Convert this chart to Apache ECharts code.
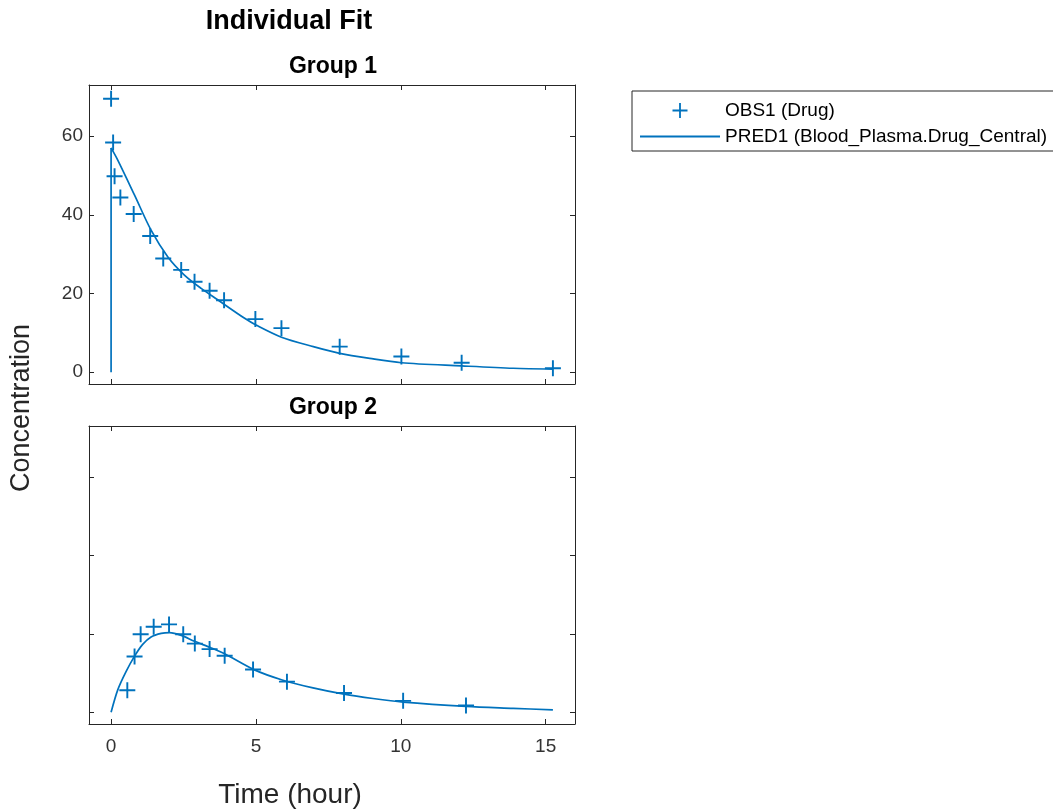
<!DOCTYPE html>
<html>
<head>
<meta charset="utf-8">
<script src="https://cdn.jsdelivr.net/npm/echarts@6/dist/echarts.min.js"></script>
<style>
html,body{margin:0;padding:0;background:#ffffff;}
#chart{width:1053px;height:809px;}
</style>
</head>
<body>
<div id="chart"></div>
<script>
// ---- data ----
const xTicks = [0, 5, 10, 15];
const yTicks = [0, 20, 40, 60];

// Group 1 observations
const obs1Time = [0, 0.07, 0.12, 0.32, 0.78, 1.35, 1.8, 2.42, 2.88, 3.4, 3.9, 4.98, 5.88, 7.89, 10.02, 12.1, 15.25];
const obs1Conc = [69.5, 58.4, 49.8, 44.4, 40.2, 34.6, 28.9, 26.0, 23.0, 20.7, 18.3, 13.5, 11.2, 6.5, 4.0, 2.4, 1.0];
// Group 1 prediction (first two points: dose jump at t = 0)
const pred1Time = [0, 0, 0.23, 0.81, 1.38, 1.96, 2.53, 3.11, 3.68, 4.61, 5.0, 5.88, 6.98, 7.89, 8.93, 10.02, 12.1, 13.88, 15.25];
const pred1Conc = [0, 57, 53.9, 45.0, 36.1, 29.3, 24.7, 21.3, 18.4, 13.7, 12.0, 8.9, 6.5, 4.8, 3.5, 2.4, 1.6, 1.0, 0.8];

// Group 2 observations
const obs2Time = [0.56, 0.81, 1.02, 1.47, 2.0, 2.49, 2.89, 3.4, 3.92, 4.9, 6.07, 8.04, 10.08, 12.25];
const obs2Conc = [5.6, 14.2, 19.9, 21.8, 22.4, 19.9, 17.5, 16.1, 14.4, 10.9, 7.8, 4.9, 2.9, 1.7];
// Group 2 prediction
const pred2Time = [0, 0.23, 0.52, 0.81, 1.09, 1.38, 1.73, 2.02, 2.42, 2.88, 3.46, 3.92, 4.95, 5.88, 6.97, 8.04, 9.04, 10.08, 12.25, 13.88, 15.25];
const pred2Conc = [0, 5.7, 10.4, 14.3, 17.3, 19.2, 20.1, 20.3, 19.6, 18.1, 16.4, 14.9, 10.8, 8.3, 6.2, 4.6, 3.5, 2.6, 1.5, 1.0, 0.6];

const obsName = 'OBS1 (Drug)';
const predName = 'PRED1 (Blood_Plasma.Drug_Central)';

// ---- styling ----
const FONT = '"Liberation Sans", Arial, Helvetica, sans-serif';
const BLUE = '#0072BD';
const AXIS = '#262626';
const PLUS = 'path://M44,0L56,0L56,44L100,44L100,56L56,56L56,100L44,100L44,56L0,56L0,44L44,44Z';
const LINEICON = 'path://M0,0L80,0L80,2L0,2Z';

const X_MIN = -0.7625, X_MAX = 16.0125;
const Y_MIN = -3, Y_MAX = 73;

function pairs(xs, ys) { return xs.map((x, i) => [x, ys[i]]); }

function xAxisDef(gridIndex, position, showLabels) {
  return {
    type: 'value', gridIndex, position, min: X_MIN, max: X_MAX,
    axisLine: { show: true, onZero: false, lineStyle: { color: AXIS, width: 1 } },
    axisTick: { show: true, inside: true, length: 5, customValues: xTicks, lineStyle: { color: AXIS, width: 1 } },
    axisLabel: { show: showLabels, customValues: xTicks, color: '#333333', fontSize: 19, fontFamily: FONT, margin: 13 },
    splitLine: { show: false }
  };
}
function yAxisDef(gridIndex, position, showLabels) {
  return {
    type: 'value', gridIndex, position, min: Y_MIN, max: Y_MAX,
    axisLine: { show: true, onZero: false, lineStyle: { color: AXIS, width: 1 } },
    axisTick: { show: true, inside: true, length: 5, customValues: yTicks, lineStyle: { color: AXIS, width: 1 } },
    axisLabel: { show: showLabels, customValues: yTicks, color: '#333333', fontSize: 19, fontFamily: FONT, margin: 6 },
    splitLine: { show: false }
  };
}

const pred1 = pairs(pred1Time, pred1Conc);
const lineStyle = { color: BLUE, width: 1.7 };

const chart = echarts.init(document.getElementById('chart'), null, { renderer: 'canvas' });
const option = {
  animation: false,
  backgroundColor: '#ffffff',
  title: [
    { text: 'Individual Fit', left: 289, top: 22, textAlign: 'center', textVerticalAlign: 'middle', padding: 0,
      textStyle: { fontSize: 27, fontWeight: 'bold', color: '#000000', fontFamily: FONT } },
    { text: 'Group 1', left: 333, top: 67, textAlign: 'center', textVerticalAlign: 'middle', padding: 0,
      textStyle: { fontSize: 23, fontWeight: 'bold', color: '#000000', fontFamily: FONT } },
    { text: 'Group 2', left: 333, top: 408, textAlign: 'center', textVerticalAlign: 'middle', padding: 0,
      textStyle: { fontSize: 23, fontWeight: 'bold', color: '#000000', fontFamily: FONT } }
  ],
  legend: {
    orient: 'vertical', left: 632, top: 91,
    padding: [10, 30, 5, 8],
    itemWidth: 80, itemHeight: 15, itemGap: 7,
    borderColor: AXIS, borderWidth: 1,
    selectedMode: false,
    textStyle: { fontSize: 19, color: '#000000', fontFamily: FONT },
    data: [ { name: obsName, icon: PLUS }, { name: predName, icon: LINEICON } ]
  },
  grid: [
    { left: 89, top: 85, width: 486, height: 299, containLabel: false },
    { left: 89, top: 426, width: 486, height: 298, containLabel: false }
  ],
  xAxis: [
    xAxisDef(0, 'bottom', false),
    xAxisDef(0, 'top', false),
    xAxisDef(1, 'bottom', true),
    xAxisDef(1, 'top', false)
  ],
  yAxis: [
    yAxisDef(0, 'left', true),
    yAxisDef(0, 'right', false),
    yAxisDef(1, 'left', false),
    yAxisDef(1, 'right', false)
  ],
  graphic: [
    { type: 'text', x: 22, y: 408, rotation: Math.PI / 2,
      style: { text: 'Concentration', fontSize: 27, fill: '#262626', align: 'center', verticalAlign: 'middle', fontFamily: FONT } },
    { type: 'text', x: 290, y: 795,
      style: { text: 'Time (hour)', fontSize: 28, fill: '#262626', align: 'center', verticalAlign: 'middle', fontFamily: FONT } }
  ],
  series: [
    // dose jump at t = 0
    { name: predName, type: 'line', xAxisIndex: 0, yAxisIndex: 0, data: pred1.slice(0, 2),
      showSymbol: false, symbol: 'none', lineStyle: lineStyle, itemStyle: { color: BLUE }, z: 2 },
    // elimination phase
    { name: predName, type: 'line', xAxisIndex: 0, yAxisIndex: 0, data: pred1.slice(1),
      showSymbol: false, symbol: 'none', smooth: 0.3, lineStyle: lineStyle, itemStyle: { color: BLUE }, z: 2 },
    { name: obsName, type: 'scatter', xAxisIndex: 0, yAxisIndex: 0, data: pairs(obs1Time, obs1Conc),
      symbol: PLUS, symbolSize: 16, itemStyle: { color: BLUE, opacity: 1 }, z: 3 },
    { name: predName, type: 'line', xAxisIndex: 2, yAxisIndex: 2, data: pairs(pred2Time, pred2Conc),
      showSymbol: false, symbol: 'none', smooth: 0.3, lineStyle: lineStyle, itemStyle: { color: BLUE }, z: 2 },
    { name: obsName, type: 'scatter', xAxisIndex: 2, yAxisIndex: 2, data: pairs(obs2Time, obs2Conc),
      symbol: PLUS, symbolSize: 16, itemStyle: { color: BLUE, opacity: 1 }, z: 3 }
  ]
};
chart.setOption(option);
</script>
</body>
</html>
